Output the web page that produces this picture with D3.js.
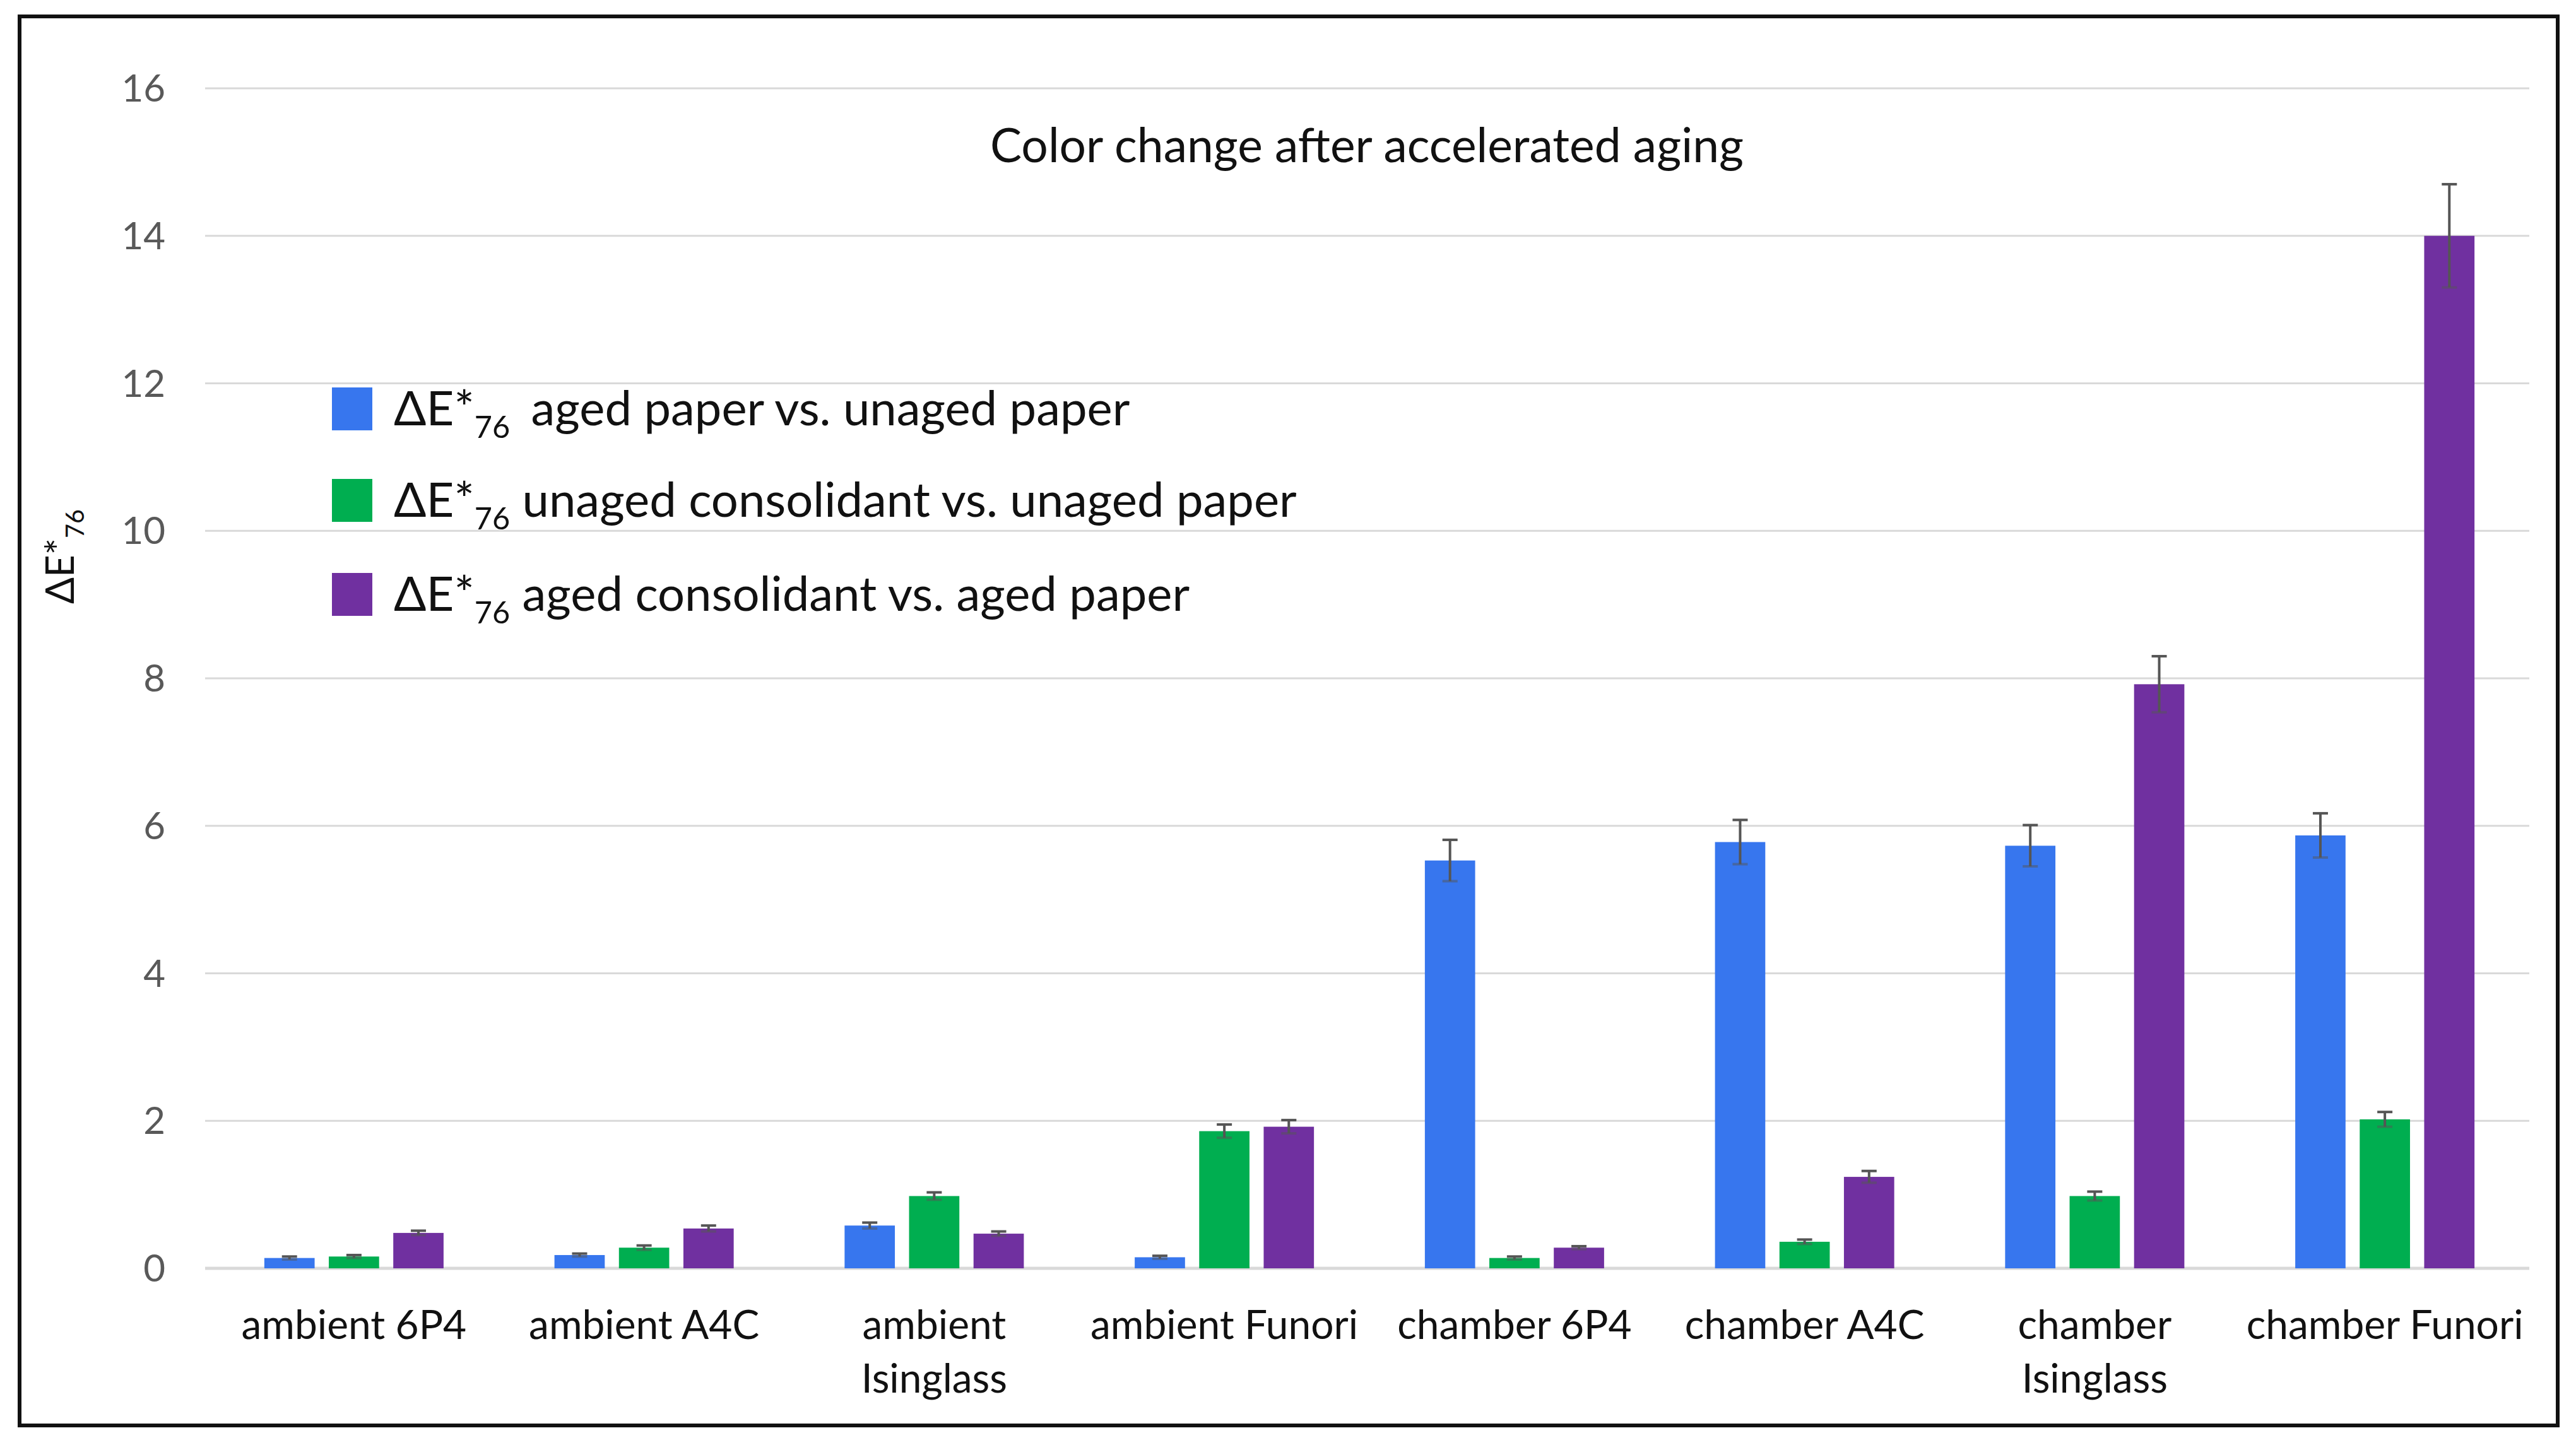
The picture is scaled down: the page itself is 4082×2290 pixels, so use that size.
<!DOCTYPE html>
<html lang="en">
<head>
<meta charset="utf-8">
<title>Color change after accelerated aging</title>
<script src="https://cdn.jsdelivr.net/npm/d3@7"></script>
<style>
  body { margin: 0; background: #fff; }
  text { font-family: Lato, "Open Sans", sans-serif; }
</style>
</head>
<body>
<script>
// categories on the x axis (label lines for the wrapped ones)
var categories = ["ambient 6P4", "ambient A4C", "ambient Isinglass", "ambient Funori",
                  "chamber 6P4", "chamber A4C", "chamber Isinglass", "chamber Funori"];
var categoryLines = [["ambient 6P4"], ["ambient A4C"], ["ambient", "Isinglass"], ["ambient Funori"],
                     ["chamber 6P4"], ["chamber A4C"], ["chamber", "Isinglass"], ["chamber Funori"]];

// series
var seriesKeys = ["agedPaper", "unagedCons", "agedCons"];
var seriesLabels = ["aged paper vs. unaged paper",
                    "unaged consolidant vs. unaged paper",
                    "aged consolidant vs. aged paper"];
var seriesColors = ["#3776EE", "#00AE50", "#7030A0"];

var agedPaper     = [0.14, 0.18, 0.58, 0.15, 5.53, 5.78, 5.73, 5.87];
var agedPaperErr  = [0.02, 0.02, 0.04, 0.02, 0.28, 0.30, 0.28, 0.30];
var unagedCons    = [0.16, 0.28, 0.98, 1.86, 0.14, 0.36, 0.98, 2.02];
var unagedConsErr = [0.02, 0.03, 0.05, 0.09, 0.02, 0.03, 0.06, 0.10];
var agedCons      = [0.48, 0.54, 0.47, 1.92, 0.28, 1.24, 7.92, 14.0];
var agedConsErr   = [0.03, 0.04, 0.03, 0.09, 0.02, 0.08, 0.38, 0.70];

var yTicks = [0, 2, 4, 6, 8, 10, 12, 14, 16];

var values = [agedPaper, unagedCons, agedCons];
var errors = [agedPaperErr, unagedConsErr, agedConsErr];

// flat list of bars
var bars = [];
categories.forEach(function(c, i) {
  seriesKeys.forEach(function(k, j) {
    bars.push({cat: c, key: k, v: values[j][i], e: errors[j][i], color: seriesColors[j]});
  });
});

var W = 4082, H = 2290;
var svg = d3.select("body").append("svg")
    .attr("width", W)
    .attr("height", H);

svg.append("rect").attr("width", W).attr("height", H).attr("fill", "#fff");

// outer frame
svg.append("rect")
    .attr("x", 31).attr("y", 26)
    .attr("width", 4022).attr("height", 2233)
    .attr("fill", "none")
    .attr("stroke", "#111")
    .attr("stroke-width", 6);

var x0 = d3.scaleBand().domain(categories).range([331, 4009]);
var x1 = d3.scaleBand().domain(seriesKeys).range([0, x0.bandwidth()])
    .paddingInner(0.22).paddingOuter(0.86);
var y = d3.scaleLinear().domain([0, 16]).range([2010, 140]);

// gridlines
svg.append("g")
    .selectAll("line")
    .data(yTicks)
    .enter()
    .append("line")
    .attr("x1", 325).attr("x2", 4008)
    .attr("y1", function(d) { return y(d); })
    .attr("y2", function(d) { return y(d); })
    .attr("stroke", "#D9D9D9")
    .attr("stroke-width", function(d) { return d === 0 ? 5 : 3; });

// y tick labels
svg.append("g")
    .selectAll("text")
    .data(yTicks)
    .enter()
    .append("text")
    .attr("x", 262)
    .attr("y", function(d) { return y(d); })
    .attr("dy", "0.35em")
    .attr("text-anchor", "end")
    .attr("font-size", 60)
    .attr("fill", "#595959")
    .text(function(d) { return d; });

// bars
svg.append("g")
    .selectAll("rect")
    .data(bars)
    .enter()
    .append("rect")
    .attr("x", function(d) { return x0(d.cat) + x1(d.key); })
    .attr("y", function(d) { return y(d.v); })
    .attr("width", x1.bandwidth())
    .attr("height", function(d) { return y(0) - y(d.v); })
    .attr("fill", function(d) { return d.color; });

// error bars
var eb = svg.append("g")
    .attr("stroke", "#555")
    .attr("stroke-width", 4)
    .selectAll("g")
    .data(bars)
    .enter()
    .append("g")
    .attr("transform", function(d) {
      return "translate(" + (x0(d.cat) + x1(d.key) + x1.bandwidth() / 2) + ",0)";
    });
eb.append("line")
    .attr("y1", function(d) { return y(d.v + d.e); })
    .attr("y2", function(d) { return y(Math.max(0, d.v - d.e)); });
eb.append("line")
    .attr("x1", -12).attr("x2", 12)
    .attr("y1", function(d) { return y(d.v + d.e); })
    .attr("y2", function(d) { return y(d.v + d.e); });
eb.append("line")
    .attr("x1", -12).attr("x2", 12)
    .attr("stroke-opacity", 0.5)
    .attr("y1", function(d) { return y(Math.max(0, d.v - d.e)); })
    .attr("y2", function(d) { return y(Math.max(0, d.v - d.e)); });

// x labels
var xl = svg.append("g")
    .selectAll("text")
    .data(categories)
    .enter()
    .append("text")
    .attr("text-anchor", "middle")
    .attr("font-size", 64)
    .attr("fill", "#111")
    .attr("transform", function(d) {
      return "translate(" + (x0(d) + x0.bandwidth() / 2) + ",2122)";
    });
xl.selectAll("tspan")
    .data(function(d, i) { return categoryLines[i]; })
    .enter()
    .append("tspan")
    .attr("x", 0)
    .attr("y", function(d, i) { return i * 85; })
    .text(function(d) { return d; });

// title
svg.append("text")
    .attr("x", 2166)
    .attr("y", 257)
    .attr("text-anchor", "middle")
    .attr("font-size", 75)
    .attr("fill", "#111")
    .text("Color change after accelerated aging");

// ΔE*76 with subscript
function deltaE(sel, size, rest, gap) {
  sel.append("tspan").text("ΔE*");
  sel.append("tspan").attr("font-size", size * 0.64).attr("dy", size * 0.26).text("76");
  if (rest) {
    sel.append("tspan").attr("dy", -size * 0.26).attr("dx", gap).text(" " + rest);
  }
}

// legend
var legend = svg.append("g")
    .selectAll("g")
    .data(seriesLabels)
    .enter()
    .append("g")
    .attr("transform", function(d, i) { return "translate(526," + [648, 793, 942][i] + ")"; });
legend.append("rect")
    .attr("x", 0).attr("y", -34)
    .attr("width", 64).attr("height", 68)
    .attr("fill", function(d, i) { return seriesColors[i]; });
legend.append("text")
    .attr("x", 98)
    .attr("y", 26)
    .attr("font-size", 76)
    .attr("fill", "#111")
    .each(function(d, i) { deltaE(d3.select(this), 76, d, i === 0 ? 14 : 0); });

// y axis title
svg.append("text")
    .attr("transform", "translate(117,882) rotate(-90)")
    .attr("text-anchor", "middle")
    .attr("font-size", 62)
    .attr("fill", "#111")
    .call(function(s) { deltaE(s, 62, null, 0); });
</script>
</body>
</html>
